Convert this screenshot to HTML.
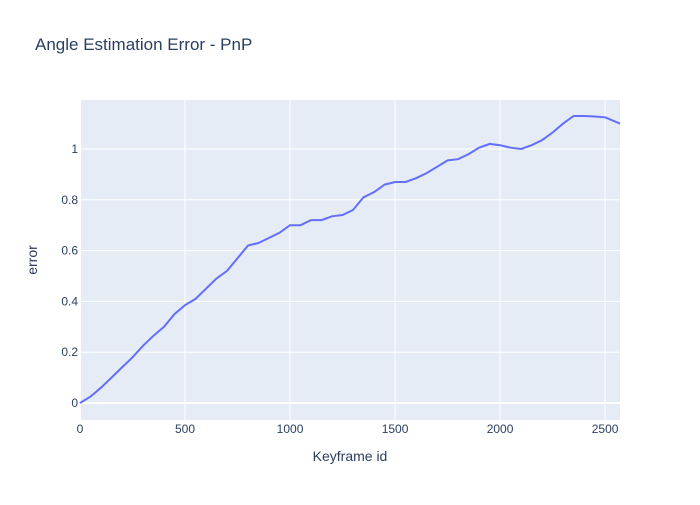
<!DOCTYPE html>
<html><head><meta charset="utf-8"><style>
body{margin:0;background:#fff;font-family:"Liberation Sans",sans-serif}
</style></head><body>
<svg id="chart" width="700" height="500" xmlns="http://www.w3.org/2000/svg">
<rect width="700" height="500" fill="#fff"/>
<text x="35" y="50" font-size="17" fill="#2a3f5f">Angle Estimation Error - PnP</text>
<rect x="80" y="100" width="540" height="320" fill="#e5ecf6"/>
<g id="grid"></g><g id="ticks"></g>
<path id="line" fill="none" stroke="#636efa" stroke-width="2"/>
<text x="350" y="461" font-size="14" fill="#2a3f5f" text-anchor="middle">Keyframe id</text>
<text x="37" y="260" font-size="14" fill="#2a3f5f" text-anchor="middle" transform="rotate(-90 37 260)">error</text>
</svg>
<script>
const xVals=[0,50,100,150,200,250,300,350,400,450,500,550,600,650,700,750,800,850,900,950,1000,1050,1100,1150,1200,1250,1300,1350,1400,1450,1500,1550,1600,1650,1700,1750,1800,1850,1900,1950,2000,2050,2100,2150,2200,2250,2300,2350,2400,2450,2500,2571];
const errVals=[0,0.025,0.06,0.1,0.14,0.18,0.225,0.265,0.3,0.35,0.385,0.41,0.45,0.49,0.52,0.57,0.62,0.63,0.65,0.67,0.7,0.7,0.72,0.72,0.735,0.74,0.76,0.81,0.83,0.86,0.87,0.87,0.885,0.905,0.93,0.955,0.96,0.98,1.005,1.02,1.015,1.005,1.0,1.015,1.035,1.065,1.1,1.13,1.13,1.128,1.125,1.1];
const xTicks=[0,500,1000,1500,2000,2500];
const yTicks=[0,0.2,0.4,0.6,0.8,1];
const xMin=0,xMax=2571,yMin=-0.067,yMax=1.193;
const X=v=>80+(v-xMin)/(xMax-xMin)*540;
const Y=v=>420-(v-yMin)/(yMax-yMin)*320;
const ns="http://www.w3.org/2000/svg";
const grid=document.getElementById('grid'),ticks=document.getElementById('ticks');
xTicks.forEach(t=>{
 const l=document.createElementNS(ns,'line');
 l.setAttribute('x1',X(t));l.setAttribute('x2',X(t));l.setAttribute('y1',100);l.setAttribute('y2',420);
 l.setAttribute('stroke','#fff');l.setAttribute('stroke-width',t===0?2:1);
 
 
 grid.appendChild(l);
 const tx=document.createElementNS(ns,'text');
 tx.setAttribute('x',X(t));tx.setAttribute('y',433);tx.setAttribute('font-size',12);tx.setAttribute('fill','#2a3f5f');tx.setAttribute('text-anchor','middle');
 tx.textContent=t;
 
 
 ticks.appendChild(tx);
});
yTicks.forEach(t=>{
 const l=document.createElementNS(ns,'line');
 l.setAttribute('x1',80);l.setAttribute('x2',620);l.setAttribute('y1',Y(t));l.setAttribute('y2',Y(t));
 l.setAttribute('stroke','#fff');l.setAttribute('stroke-width',t===0?2:1);
 
 
 grid.appendChild(l);
 const tx=document.createElementNS(ns,'text');
 tx.setAttribute('x',78);tx.setAttribute('y',Y(t)+4);tx.setAttribute('font-size',12);tx.setAttribute('fill','#2a3f5f');tx.setAttribute('text-anchor','end');
 tx.textContent=t;
 
 
 ticks.appendChild(tx);
});
document.getElementById('line').setAttribute('d',xVals.map((v,i)=>(i?'L':'M')+X(v).toFixed(1)+','+Y(errVals[i]).toFixed(1)).join(''));
</script>
</body></html>
